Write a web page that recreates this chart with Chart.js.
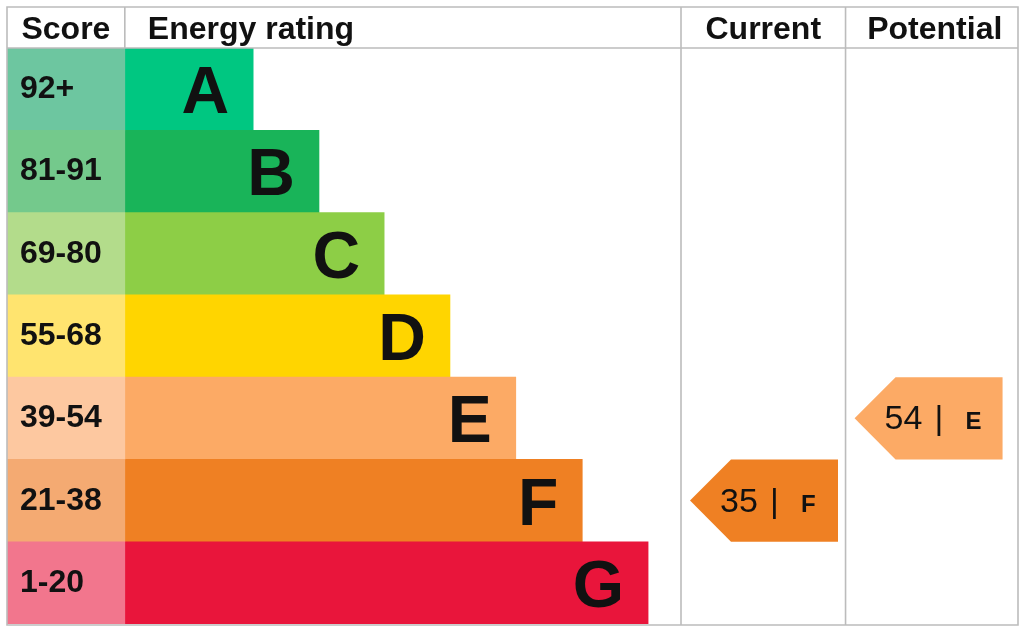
<!DOCTYPE html>
<html>
<head>
<meta charset="utf-8">
<script src="https://cdn.jsdelivr.net/npm/chart.js@4"></script>
<style>
html,body{margin:0;padding:0;background:#fff;}
canvas{display:block;}
</style>
</head>
<body>
<canvas id="c" width="1024" height="634"></canvas>
<script>
// ---- data ----
const bands = ['A','B','C','D','E','F','G'];
const scoreRanges = ['92+','81-91','69-80','55-68','39-54','21-38','1-20'];
const barLengths = [1.95, 2.95, 3.94, 4.94, 5.94, 6.95, 7.95];
const bandColors = ['#00c781','#19b459','#8dce46','#ffd500','#fcaa65','#ef8023','#e9153b'];
const scoreColors = ['#6dc6a0','#74c98c','#b3dc8b','#ffe46f','#fdc8a0','#f4aa72','#f2768d'];
const headers = ['Score','Energy rating','Current','Potential'];
const currentScore = 35, currentBand = 'F';
const potentialScore = 54, potentialBand = 'E';

// layout (x-scale units)
const scoreColEnd = 1.79;
const currentColStart = 10.24;
const potentialColStart = 12.74;
const xMax = 15.36;

const FONT = '"Liberation Sans", Arial, sans-serif';
const GRID = '#bcbcbc';

const epcPlugin = {
  id: 'epc',
  afterDatasetsDraw(chart) {
    const {ctx, chartArea: ca, scales: {x, y}} = chart;
    const top = 7;
    ctx.save();
    // grid lines
    ctx.strokeStyle = GRID;
    ctx.lineWidth = 1.6;
    ctx.beginPath();
    ctx.rect(ca.left, top, ca.right - ca.left, ca.bottom + 1 - top);
    ctx.moveTo(ca.left, ca.top); ctx.lineTo(ca.right, ca.top);
    const xs = x.getPixelForValue(scoreColEnd);
    const xc = x.getPixelForValue(currentColStart);
    const xp = x.getPixelForValue(potentialColStart);
    ctx.moveTo(xs, top); ctx.lineTo(xs, ca.top);
    ctx.moveTo(xc, top); ctx.lineTo(xc, ca.bottom + 1);
    ctx.moveTo(xp, top); ctx.lineTo(xp, ca.bottom + 1);
    ctx.stroke();

    // headers
    ctx.fillStyle = '#111';
    ctx.font = 'bold 32px ' + FONT;
    ctx.textBaseline = 'alphabetic';
    const hb = 39;
    ctx.textAlign = 'center';
    ctx.fillText(headers[0], (ca.left + xs) / 2, hb);
    ctx.textAlign = 'left';
    ctx.fillText(headers[1], xs + 23, hb);
    ctx.textAlign = 'center';
    ctx.fillText(headers[2], (xc + xp) / 2, hb);
    ctx.fillText(headers[3], (xp + ca.right) / 2 + 3, hb);

    // score labels and band letters
    const scoreMeta = chart.getDatasetMeta(0);
    const barMeta = chart.getDatasetMeta(1);
    bands.forEach((b, i) => {
      const cy = y.getPixelForValue(i);
      ctx.fillStyle = '#111';
      ctx.font = 'bold 32px ' + FONT;
      ctx.textAlign = 'left';
      ctx.fillText(scoreRanges[i], ca.left + 13, cy + 9);
      const bar = barMeta.data[i];
      ctx.font = 'bold 66px ' + FONT;
      ctx.textAlign = 'right';
      ctx.fillText(b, bar.x - 24, cy + 24);
    });

    // arrows
    const drawArrow = (colStart, score, band) => {
      const i = bands.indexOf(band);
      const cy = y.getPixelForValue(i);
      const h = (y.getPixelForValue(1) - y.getPixelForValue(0));
      const t = cy - h / 2, bt = cy + h / 2;
      const tip = colStart + 9;
      const body = tip + 41;
      const right = tip + 148;
      ctx.fillStyle = bandColors[i];
      ctx.beginPath();
      ctx.moveTo(tip, cy);
      ctx.lineTo(body, t);
      ctx.lineTo(right, t);
      ctx.lineTo(right, bt);
      ctx.lineTo(body, bt);
      ctx.closePath();
      ctx.fill();
      ctx.fillStyle = '#111';
      ctx.textAlign = 'left';
      ctx.font = '34px ' + FONT;
      ctx.fillText(String(score), tip + 30, cy + 11);
      ctx.fillText('|', tip + 80, cy + 11);
      ctx.font = 'bold 24px ' + FONT;
      ctx.fillText(band, tip + 111, cy + 11);
    };
    drawArrow(xc, currentScore, currentBand);
    drawArrow(xp, potentialScore, potentialBand);
    ctx.restore();
  }
};

new Chart(document.getElementById('c'), {
  type: 'bar',
  data: {
    labels: bands,
    datasets: [
      {
        data: scoreRanges.map(() => [0, scoreColEnd]),
        backgroundColor: scoreColors,
        categoryPercentage: 1, barPercentage: 1, borderWidth: 0
      },
      {
        data: barLengths.map(l => [scoreColEnd, scoreColEnd + l]),
        backgroundColor: bandColors,
        categoryPercentage: 1, barPercentage: 1, borderWidth: 0
      }
    ]
  },
  options: {
    indexAxis: 'y',
    responsive: false,
    animation: false,
    devicePixelRatio: 1,
    layout: {padding: {left: 7, right: 6, top: 48, bottom: 10}},
    datasets: {bar: {grouped: false}},
    scales: {
      x: {display: false, min: 0, max: xMax},
      y: {display: false}
    },
    plugins: {legend: {display: false}, tooltip: {enabled: false}}
  },
  plugins: [epcPlugin]
});
</script>
</body>
</html>
